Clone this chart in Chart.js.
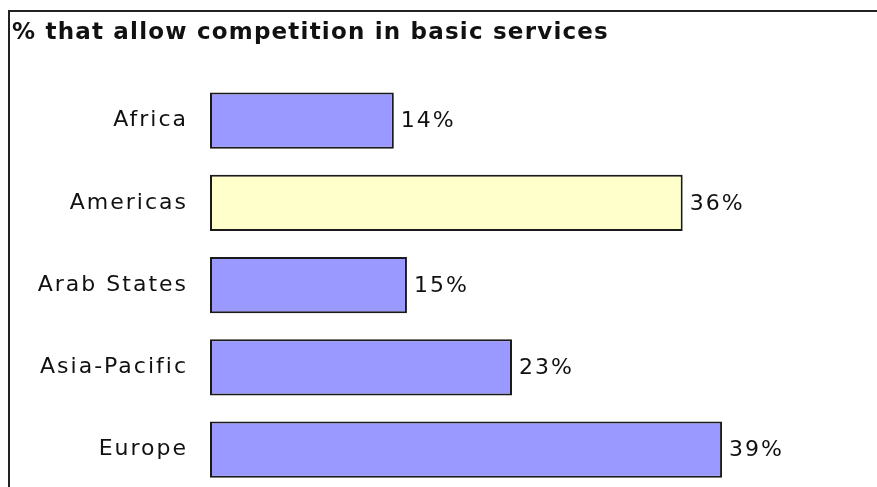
<!DOCTYPE html>
<html>
<head>
<meta charset="utf-8">
<script src="https://cdn.jsdelivr.net/npm/chart.js@4/dist/chart.umd.min.js"></script>
<style>
  html, body { margin: 0; padding: 0; background: #fff; overflow: hidden; width: 877px; height: 487px; }
  canvas { display: block; }
</style>
</head>
<body>
<canvas id="chart" width="877" height="518"></canvas>
<script>
// Share of countries allowing competition in basic services, by region
const chartTitle = '% that allow competition in basic services';
const regions = ['Africa', 'Americas', 'Arab States', 'Asia-Pacific', 'Europe'];
const shares = [14, 36, 15, 23, 39];
const barColors = ['#9999FF', '#FFFFCC', '#9999FF', '#9999FF', '#9999FF'];

const FONT = '"DejaVu Sans", Verdana, sans-serif';

// Wide lettering, frame, title and value labels
const decor = {
  id: 'decor',
  beforeDraw(chart) {
    chart.ctx.letterSpacing = '2px';
  },
  afterDraw(chart) {
    const ctx = chart.ctx;
    ctx.save();
    // frame: top and left rules
    ctx.strokeStyle = '#222';
    ctx.lineWidth = 2;
    ctx.beginPath();
    ctx.moveTo(chart.width, 11);
    ctx.lineTo(9, 11);
    ctx.lineTo(9, chart.height);
    ctx.stroke();

    // title
    ctx.letterSpacing = '1.2px';
    ctx.fillStyle = '#111';
    ctx.font = 'bold 23px ' + FONT;
    ctx.textAlign = 'left';
    ctx.textBaseline = 'alphabetic';
    ctx.fillText(chartTitle, 12, 39);

    // value labels at the end of each bar
    ctx.letterSpacing = '2px';
    ctx.font = '22px ' + FONT;
    ctx.textBaseline = 'middle';
    const meta = chart.getDatasetMeta(0);
    meta.data.forEach((bar, i) => {
      ctx.fillText(shares[i] + '%', bar.x + 7, bar.y + 1);
    });
    ctx.restore();
  }
};

new Chart(document.getElementById('chart'), {
  type: 'bar',
  data: {
    labels: regions,
    datasets: [{
      data: shares,
      backgroundColor: barColors,
      borderColor: '#1a1a1a',
      borderWidth: 2,
      borderSkipped: false,
      categoryPercentage: 1,
      barPercentage: 0.685
    }]
  },
  options: {
    indexAxis: 'y',
    responsive: false,
    animation: false,
    devicePixelRatio: 1,
    layout: { padding: { top: 79.5, bottom: 0, left: 0, right: 10.5 } },
    plugins: {
      legend: { display: false },
      title: { display: false },
      tooltip: { enabled: false }
    },
    scales: {
      x: {
        display: false,
        min: 0,
        max: 50
      },
      y: {
        grid: { display: false },
        border: { display: false },
        afterFit(scale) { scale.width = 210; },
        ticks: {
          color: '#111',
          padding: 14,
          font: { family: FONT, size: 22 }
        }
      }
    }
  },
  plugins: [decor]
});
</script>
</body>
</html>
